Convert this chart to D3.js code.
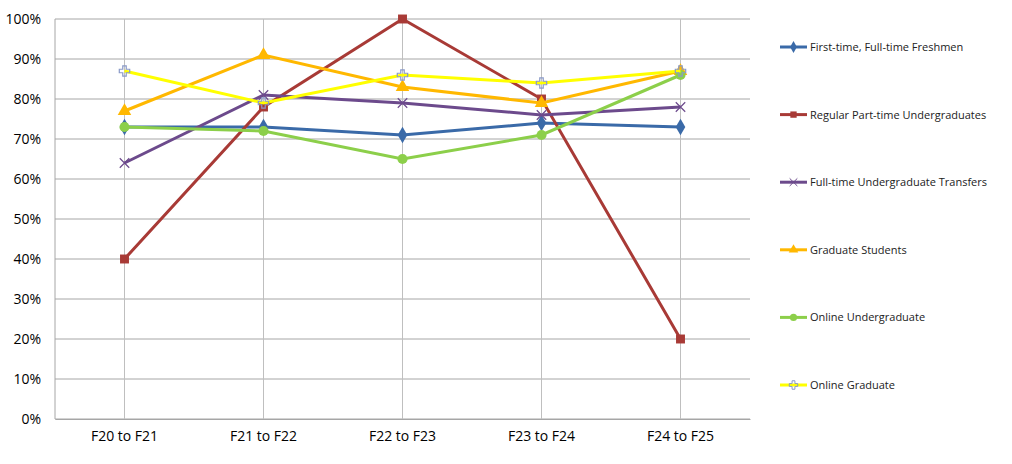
<!DOCTYPE html>
<html><head><meta charset="utf-8">
<script src="https://cdn.jsdelivr.net/npm/d3@7"></script>
<style>body{margin:0;background:#fff;font-family:"Open Sans",sans-serif;}</style>
</head><body>
<script>
const categories = ["F20 to F21", "F21 to F22", "F22 to F23", "F23 to F24", "F24 to F25"];
const seriesNames = ["First-time, Full-time Freshmen", "Regular Part-time Undergraduates",
    "Full-time Undergraduate Transfers", "Graduate Students", "Online Undergraduate", "Online Graduate"];
const freshmen = [73, 73, 71, 74, 73];
const partTime = [40, 78, 100, 80, 20];
const transfers = [64, 81, 79, 76, 78];
const graduate = [77, 91, 83, 79, 87];
const onlineUG = [73, 72, 65, 71, 86];
const onlineGrad = [87, 79, 86, 84, 87];
const yTicks = [0, 10, 20, 30, 40, 50, 60, 70, 80, 90, 100];

const colors = ["#3a6aa8", "#a83a36", "#6c4a8c", "#ffb800", "#8ccf4a", "#ffff00"];
const symbols = ["diamond", "square", "x", "triangle", "circle", "plus"];
const allSeries = [freshmen, partTime, transfers, graduate, onlineUG, onlineGrad];

const width = 1012, height = 464;
const margin = {left: 55, right: 262, top: 19, bottom: 45};

let svg = d3.select("body").append("svg")
    .attr("width", width)
    .attr("height", height);

let xScale = d3.scaleBand()
    .domain(categories)
    .range([margin.left, width - margin.right]);

let yScale = d3.scaleLinear()
    .domain([0, 100])
    .range([height - margin.bottom, margin.top]);

// gridlines
svg.append("g")
    .selectAll("line").data(yTicks).join("line")
    .attr("x1", margin.left).attr("x2", width - margin.right)
    .attr("y1", d => yScale(d)).attr("y2", d => yScale(d))
    .attr("stroke", "#a6a6a6").attr("stroke-width", 1);
svg.append("g")
    .selectAll("line").data(categories).join("line")
    .attr("x1", d => xScale(d) + xScale.bandwidth() / 2)
    .attr("x2", d => xScale(d) + xScale.bandwidth() / 2)
    .attr("y1", margin.top).attr("y2", height - margin.bottom)
    .attr("stroke", "#bfbfbf");
svg.append("line")
    .attr("x1", margin.left).attr("x2", margin.left)
    .attr("y1", margin.top).attr("y2", height - margin.bottom)
    .attr("stroke", "#a6a6a6");

let yAxis = svg.append("g")
    .attr("transform", `translate(${margin.left},0)`)
    .call(d3.axisLeft(yScale).tickValues(yTicks).tickFormat(d => d + "%").tickSize(0).tickPadding(14));
yAxis.select(".domain").remove();
yAxis.selectAll("text").style("font-size", "14px").attr("fill", "#000").style("font-family", "Open Sans, sans-serif");

let xAxis = svg.append("g")
    .attr("transform", `translate(0,${height - margin.bottom})`)
    .call(d3.axisBottom(xScale).tickSize(0).tickPadding(12));
xAxis.select(".domain").attr("stroke", "#a6a6a6");
xAxis.selectAll("text").style("font-size", "14px").attr("fill", "#000").style("font-family", "Open Sans, sans-serif");

function symbolPath(name, size) {
    if (name === "diamond") return d3.symbol(d3.symbolDiamond, size)();
    if (name === "square") return d3.symbol(d3.symbolSquare, size)();
    if (name === "triangle") return d3.symbol(d3.symbolTriangle, size)();
    if (name === "circle") return d3.symbol(d3.symbolCircle, size)();
    if (name === "x") return d3.symbol(d3.symbolX, size)();
    return d3.symbol(d3.symbolCross, size)();
}

let line = d3.line()
    .x((d, i) => xScale(categories[i]) + xScale.bandwidth() / 2)
    .y(d => yScale(d));

allSeries.forEach((vals, s) => {
    svg.append("path")
        .datum(vals)
        .attr("d", line)
        .attr("fill", "none")
        .attr("stroke", colors[s])
        .attr("stroke-width", 3);
    let stroked = symbols[s] === "x" || symbols[s] === "plus";
    svg.append("g").selectAll("path").data(vals).join("path")
        .attr("transform", (d, i) => `translate(${xScale(categories[i]) + xScale.bandwidth() / 2},${yScale(d)})`)
        .attr("d", symbolPath(symbols[s], stroked ? 60 : 80))
        .attr("fill", stroked ? "none" : colors[s])
        .attr("stroke", stroked ? (s === 5 ? "#8a9ac8" : colors[s]) : "none")
        .attr("stroke-width", 1.2);
});

// legend
let legend = svg.append("g").selectAll("g").data(seriesNames).join("g")
    .attr("transform", (d, i) => `translate(780,${47 + i * 67.6})`);
legend.append("line")
    .attr("x1", 0).attr("x2", 27)
    .attr("stroke", (d, i) => colors[i]).attr("stroke-width", 3);
legend.append("path")
    .attr("transform", "translate(13.5,0)")
    .attr("d", (d, i) => symbolPath(symbols[i], 40))
    .attr("fill", (d, i) => (symbols[i] === "x" || symbols[i] === "plus") ? "none" : colors[i])
    .attr("stroke", (d, i) => symbols[i] === "x" ? colors[i] : symbols[i] === "plus" ? "#8a9ac8" : "none");
legend.append("text")
    .attr("x", 30).attr("y", 4)
    .style("font-size", "11px")
    .attr("fill", "#222")
    .text(d => d);
</script>
</body></html>
